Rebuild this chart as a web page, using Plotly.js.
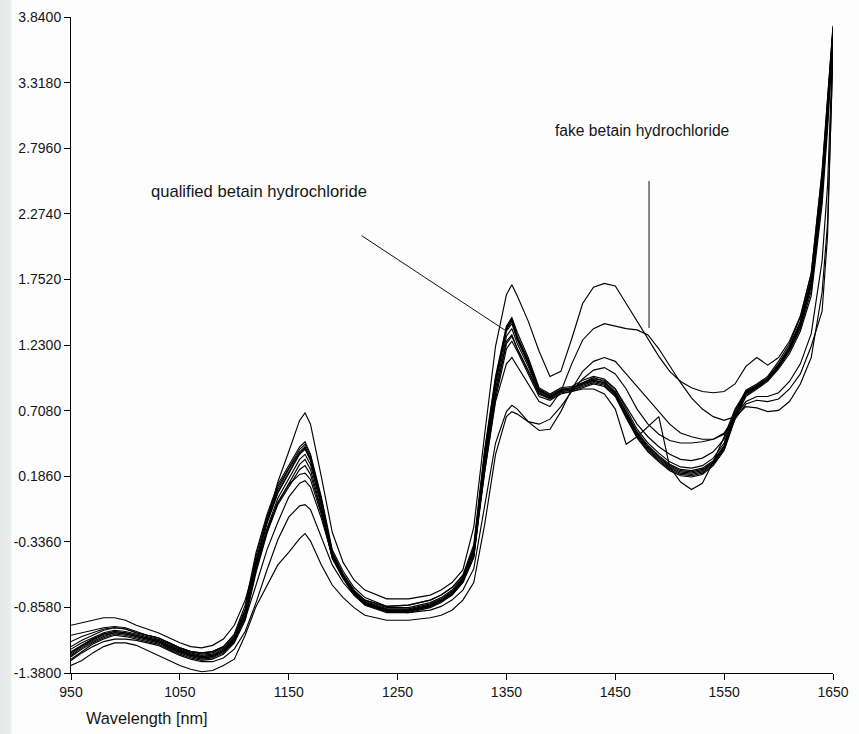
<!DOCTYPE html>
<html>
<head>
<meta charset="utf-8">
<script src="https://cdn.plot.ly/plotly-3.0.1.min.js"></script>
<style>
  html, body { margin: 0; padding: 0; }
  body {
    width: 859px; height: 734px; overflow: hidden;
    background: linear-gradient(to right, #e4e8e7 0px, #eceeed 11px, #fdfdfd 12px);
  }
  #chart { width: 859px; height: 734px; }
</style>
</head>
<body>
<div id="chart"></div>
<script>
// NIR absorbance spectra of betaine hydrochloride samples
const wavelength = [
  950, 960, 970, 980, 990, 1000, 1010, 1020, 1030, 1040,
  1050, 1060, 1070, 1080, 1090, 1100, 1110, 1120, 1130, 1140,
  1150, 1160, 1165, 1170, 1180, 1190, 1200, 1210, 1220, 1240,
  1260, 1280, 1290, 1300, 1310, 1320, 1330, 1340, 1350, 1355,
  1360, 1370, 1380, 1390, 1400, 1410, 1420, 1430, 1440, 1450,
  1460, 1470, 1480, 1490, 1500, 1510, 1520, 1530, 1540, 1550,
  1560, 1570, 1580, 1590, 1600, 1610, 1620, 1630, 1640, 1645,
  1650
];

// qualified samples
const qualified1 = [
  -1.17, -1.12, -1.08, -1.04, -1.02, -1.03, -1.06, -1.08, -1.10, -1.14,
  -1.18, -1.21, -1.22, -1.21, -1.17, -1.07, -0.84, -0.42, -0.12, 0.12,
  0.27, 0.42, 0.46, 0.36, 0.02, -0.40, -0.57, -0.70, -0.78, -0.85,
  -0.84, -0.80, -0.76, -0.70, -0.60, -0.36, 0.40, 0.98, 1.38, 1.45,
  1.33, 1.13, 0.89, 0.84, 0.89, 0.90, 0.95, 0.98, 0.96, 0.88,
  0.72, 0.56, 0.45, 0.37, 0.30, 0.26, 0.25, 0.27, 0.33, 0.45,
  0.70, 0.87, 0.92, 0.98, 1.10, 1.24, 1.45, 1.80, 2.60, 3.20,
  3.76
];
const qualified2 = [
  -1.19, -1.14, -1.10, -1.06, -1.04, -1.05, -1.07, -1.09, -1.11, -1.15,
  -1.19, -1.22, -1.24, -1.23, -1.19, -1.09, -0.87, -0.45, -0.14, 0.10,
  0.25, 0.40, 0.44, 0.35, 0.00, -0.42, -0.59, -0.72, -0.80, -0.86,
  -0.86, -0.82, -0.78, -0.72, -0.62, -0.38, 0.38, 0.96, 1.37, 1.44,
  1.30, 1.11, 0.88, 0.83, 0.88, 0.89, 0.93, 0.97, 0.94, 0.86,
  0.70, 0.54, 0.43, 0.35, 0.28, 0.24, 0.23, 0.25, 0.31, 0.43,
  0.68, 0.86, 0.91, 0.97, 1.08, 1.22, 1.42, 1.76, 2.55, 3.15,
  3.74
];
const qualified3 = [
  -1.21, -1.16, -1.11, -1.07, -1.05, -1.06, -1.08, -1.10, -1.12, -1.16,
  -1.20, -1.23, -1.25, -1.24, -1.20, -1.10, -0.89, -0.48, -0.16, 0.08,
  0.24, 0.38, 0.42, 0.33, -0.02, -0.43, -0.60, -0.73, -0.81, -0.87,
  -0.87, -0.83, -0.79, -0.73, -0.63, -0.40, 0.36, 0.94, 1.36, 1.43,
  1.29, 1.09, 0.87, 0.82, 0.87, 0.88, 0.92, 0.95, 0.93, 0.85,
  0.68, 0.52, 0.41, 0.33, 0.26, 0.22, 0.21, 0.23, 0.30, 0.42,
  0.67, 0.85, 0.90, 0.96, 1.07, 1.20, 1.40, 1.73, 2.50, 3.10,
  3.73
];
const qualified4 = [
  -1.23, -1.17, -1.12, -1.08, -1.06, -1.07, -1.09, -1.11, -1.13, -1.17,
  -1.21, -1.24, -1.26, -1.25, -1.21, -1.12, -0.92, -0.52, -0.19, 0.05,
  0.21, 0.36, 0.40, 0.31, -0.04, -0.44, -0.61, -0.74, -0.82, -0.88,
  -0.88, -0.84, -0.80, -0.74, -0.64, -0.42, 0.33, 0.92, 1.34, 1.40,
  1.27, 1.08, 0.86, 0.82, 0.86, 0.87, 0.91, 0.94, 0.92, 0.84,
  0.67, 0.51, 0.40, 0.32, 0.25, 0.21, 0.20, 0.22, 0.29, 0.41,
  0.66, 0.84, 0.89, 0.95, 1.06, 1.19, 1.38, 1.70, 2.45, 3.05,
  3.72
];
const qualified5 = [
  -1.25, -1.19, -1.14, -1.10, -1.07, -1.08, -1.10, -1.12, -1.14, -1.18,
  -1.22, -1.25, -1.27, -1.26, -1.22, -1.13, -0.94, -0.55, -0.23, 0.01,
  0.17, 0.32, 0.36, 0.28, -0.06, -0.45, -0.62, -0.75, -0.83, -0.89,
  -0.89, -0.85, -0.81, -0.75, -0.65, -0.44, 0.30, 0.88, 1.30, 1.36,
  1.24, 1.06, 0.85, 0.81, 0.86, 0.87, 0.90, 0.93, 0.91, 0.83,
  0.66, 0.50, 0.39, 0.31, 0.24, 0.20, 0.19, 0.21, 0.28, 0.40,
  0.65, 0.83, 0.89, 0.95, 1.05, 1.18, 1.36, 1.66, 2.40, 3.00,
  3.70
];
const qualified6 = [
  -1.27, -1.21, -1.15, -1.11, -1.08, -1.09, -1.11, -1.13, -1.15, -1.19,
  -1.23, -1.26, -1.28, -1.27, -1.23, -1.14, -0.96, -0.58, -0.27, -0.03,
  0.13, 0.28, 0.32, 0.24, -0.09, -0.47, -0.63, -0.76, -0.84, -0.90,
  -0.90, -0.86, -0.82, -0.76, -0.66, -0.46, 0.26, 0.84, 1.26, 1.31,
  1.20, 1.03, 0.84, 0.80, 0.85, 0.86, 0.89, 0.92, 0.90, 0.82,
  0.65, 0.49, 0.38, 0.30, 0.23, 0.19, 0.18, 0.20, 0.27, 0.39,
  0.64, 0.82, 0.88, 0.94, 1.04, 1.16, 1.34, 1.62, 2.35, 2.95,
  3.68
];
const qualified7 = [
  -1.22, -1.16, -1.11, -1.07, -1.05, -1.06, -1.08, -1.10, -1.12, -1.16,
  -1.20, -1.23, -1.25, -1.24, -1.20, -1.11, -0.93, -0.56, -0.26, -0.04,
  0.10, 0.24, 0.27, 0.20, -0.10, -0.46, -0.62, -0.75, -0.83, -0.89,
  -0.89, -0.85, -0.81, -0.75, -0.65, -0.45, 0.26, 0.84, 1.24, 1.30,
  1.20, 1.02, 0.84, 0.81, 0.87, 0.89, 0.93, 0.96, 0.95, 0.88,
  0.74, 0.60, 0.50, 0.42, 0.36, 0.32, 0.31, 0.33, 0.38, 0.48,
  0.70, 0.85, 0.90, 0.96, 1.06, 1.19, 1.38, 1.70, 2.45, 3.05,
  3.71
];
const qualified8 = [
  -1.24, -1.18, -1.13, -1.09, -1.06, -1.07, -1.09, -1.11, -1.13, -1.17,
  -1.21, -1.24, -1.26, -1.25, -1.21, -1.11, -0.90, -0.50, -0.18, 0.06,
  0.22, 0.37, 0.41, 0.32, -0.03, -0.44, -0.60, -0.74, -0.82, -0.88,
  -0.88, -0.84, -0.80, -0.74, -0.64, -0.41, 0.34, 0.93, 1.35, 1.42,
  1.28, 1.10, 0.87, 0.82, 0.87, 0.88, 0.92, 0.95, 0.93, 0.85,
  0.69, 0.53, 0.42, 0.34, 0.27, 0.23, 0.22, 0.24, 0.30, 0.42,
  0.67, 0.85, 0.90, 0.96, 1.07, 1.21, 1.41, 1.75, 2.52, 3.12,
  3.73
];

// fake samples
const fake1 = [
  -1.00, -0.98, -0.96, -0.94, -0.94, -0.96, -1.00, -1.03, -1.06, -1.10,
  -1.14, -1.17, -1.18, -1.16, -1.11, -1.00, -0.80, -0.50, -0.18, 0.14,
  0.38, 0.63, 0.69, 0.60, 0.18, -0.26, -0.50, -0.64, -0.72, -0.79,
  -0.79, -0.76, -0.72, -0.66, -0.56, -0.22, 0.52, 1.22, 1.63, 1.71,
  1.62, 1.42, 1.18, 0.98, 1.02, 1.28, 1.56, 1.69, 1.72, 1.70,
  1.56, 1.42, 1.28, 1.14, 1.02, 0.94, 0.89, 0.86, 0.85, 0.86,
  0.92, 1.06, 1.13, 1.07, 1.13, 1.26, 1.46, 1.80, 2.62, 3.22,
  3.77
];
const fake2 = [
  -1.08, -1.06, -1.04, -1.02, -1.01, -1.02, -1.05, -1.08, -1.10, -1.14,
  -1.18, -1.21, -1.23, -1.22, -1.18, -1.10, -0.95, -0.68, -0.40, -0.18,
  0.02, 0.13, 0.15, 0.10, -0.15, -0.45, -0.62, -0.73, -0.80, -0.85,
  -0.84, -0.80, -0.76, -0.70, -0.61, -0.40, 0.22, 0.78, 1.08, 1.13,
  1.06, 0.93, 0.78, 0.74, 0.86, 1.08, 1.27, 1.36, 1.40, 1.38,
  1.36, 1.35, 1.31, 1.20, 1.06, 0.93, 0.81, 0.72, 0.66, 0.63,
  0.66, 0.74, 0.73, 0.70, 0.71, 0.78, 0.92, 1.13, 1.65, 2.20,
  3.55
];
const fake3 = [
  -1.28, -1.22, -1.17, -1.13, -1.11, -1.11, -1.12, -1.14, -1.16, -1.20,
  -1.24, -1.27, -1.29, -1.29, -1.26, -1.19, -1.05, -0.82, -0.56, -0.32,
  -0.14, -0.05, -0.04, -0.08, -0.30, -0.52, -0.66, -0.76, -0.83, -0.89,
  -0.90, -0.88, -0.85, -0.80, -0.72, -0.55, -0.05, 0.45, 0.70, 0.75,
  0.72, 0.62, 0.55, 0.56, 0.70, 0.88, 1.02, 1.10, 1.13, 1.10,
  1.00, 0.90, 0.80, 0.70, 0.60, 0.53, 0.50, 0.48, 0.48, 0.52,
  0.64, 0.76, 0.79, 0.78, 0.80, 0.88, 1.00, 1.22, 1.50, 2.10,
  3.62
];
const fake4 = [
  -1.32, -1.28, -1.22, -1.17, -1.14, -1.14, -1.16, -1.20, -1.24, -1.28,
  -1.32, -1.35, -1.37, -1.36, -1.32, -1.27, -1.08, -0.85, -0.68, -0.52,
  -0.42, -0.31, -0.27, -0.33, -0.52, -0.68, -0.78, -0.86, -0.92, -0.96,
  -0.96, -0.94, -0.92, -0.88, -0.80, -0.66, -0.20, 0.36, 0.66, 0.70,
  0.68, 0.62, 0.60, 0.64, 0.74, 0.86, 0.96, 1.03, 1.05, 1.00,
  0.88, 0.72, 0.60, 0.52, 0.47, 0.45, 0.45, 0.46, 0.48, 0.53,
  0.66, 0.78, 0.82, 0.82, 0.85, 0.94, 1.08, 1.32, 1.90, 2.50,
  3.66
];
const fake5 = [
  -1.13, -1.09, -1.06, -1.03, -1.02, -1.03, -1.06, -1.08, -1.10, -1.14,
  -1.18, -1.21, -1.22, -1.21, -1.17, -1.08, -0.88, -0.52, -0.24, -0.02,
  0.12, 0.20, 0.21, 0.16, -0.12, -0.46, -0.62, -0.74, -0.82, -0.88,
  -0.88, -0.85, -0.81, -0.76, -0.66, -0.46, 0.22, 0.80, 1.20, 1.26,
  1.18, 1.00, 0.82, 0.79, 0.84, 0.86, 0.88, 0.88, 0.84, 0.72,
  0.44, 0.50, 0.58, 0.66, 0.26, 0.14, 0.08, 0.13, 0.30, 0.50,
  0.72, 0.86, 0.90, 0.96, 1.07, 1.20, 1.40, 1.74, 2.52, 3.12,
  3.72
];

const spectra = [
  qualified1, qualified2, qualified3, qualified4,
  qualified5, qualified6, qualified7, qualified8,
  fake1, fake2, fake3, fake4, fake5
];

// y ticks from -1.38 to 3.84 in steps of 0.522
const yTickVals = [-1.38, -0.858, -0.336, 0.186, 0.708, 1.23, 1.752, 2.274, 2.796, 3.318, 3.84];
const yTickText = ['-1.3800', '-0.8580', '-0.3360', '0.1860', '0.7080', '1.2300', '1.7520', '2.2740', '2.7960', '3.3180', '3.8400'];
const xTickVals = [950, 1050, 1150, 1250, 1350, 1450, 1550, 1650];
const xTickText = ['950', '1050', '1150', '1250', '1350', '1450', '1550', '1650'];

const FONT = 'Liberation Sans, Arial, sans-serif';
const INK = '#151515';

const traces = spectra.map(s => ({
  type: 'scatter',
  mode: 'lines',
  x: wavelength,
  y: s,
  line: { color: '#000', width: 1.15 },
  hoverinfo: 'skip',
  showlegend: false
}));

const layout = {
  width: 859,
  height: 734,
  margin: { l: 71, r: 26, t: 17, b: 61 },
  paper_bgcolor: 'rgba(0,0,0,0)',
  plot_bgcolor: 'rgba(0,0,0,0)',
  font: { family: FONT, size: 14, color: INK },
  showlegend: false,
  xaxis: {
    range: [950, 1650],
    tickvals: xTickVals,
    ticktext: xTickText,
    ticks: 'outside',
    ticklen: 6,
    tickcolor: '#000',
    showline: true,
    linecolor: '#000',
    linewidth: 1,
    showgrid: false,
    zeroline: false,
    tickfont: { family: FONT, size: 14, color: INK }
  },
  yaxis: {
    range: [-1.38, 3.84],
    tickvals: yTickVals,
    ticktext: yTickText,
    ticks: 'outside',
    ticklen: 6,
    tickcolor: '#000',
    showline: true,
    linecolor: '#000',
    linewidth: 1,
    showgrid: false,
    zeroline: false,
    tickfont: { family: FONT, size: 14, color: INK }
  },
  shapes: [
    // pointer to the qualified group
    { type: 'line', xref: 'x', yref: 'y', x0: 1217, y0: 2.10, x1: 1350, y1: 1.34,
      line: { color: '#111', width: 1 } },
    // pointer to the fake group
    { type: 'line', xref: 'x', yref: 'y', x0: 1481, y0: 2.535, x1: 1481, y1: 1.365,
      line: { color: '#111', width: 1 } }
  ],
  annotations: [
    { text: 'qualified betain hydrochloride', xref: 'x', yref: 'y',
      x: 1022, y: 2.455, xanchor: 'left', yanchor: 'middle', showarrow: false,
      font: { family: FONT, size: 16.6, color: INK } },
    { text: 'fake betain hydrochloride', xref: 'x', yref: 'y',
      x: 1392.5, y: 2.94, xanchor: 'left', yanchor: 'middle', showarrow: false,
      font: { family: FONT, size: 15.6, color: INK } },
    { text: 'Wavelength [nm]', xref: 'paper', yref: 'paper',
      x: 13 / 762, y: -45 / 656, xanchor: 'left', yanchor: 'middle', showarrow: false,
      font: { family: FONT, size: 16.3, color: INK } }
  ]
};

Plotly.newPlot('chart', traces, layout, { staticPlot: true, displayModeBar: false });
</script>
</body>
</html>
